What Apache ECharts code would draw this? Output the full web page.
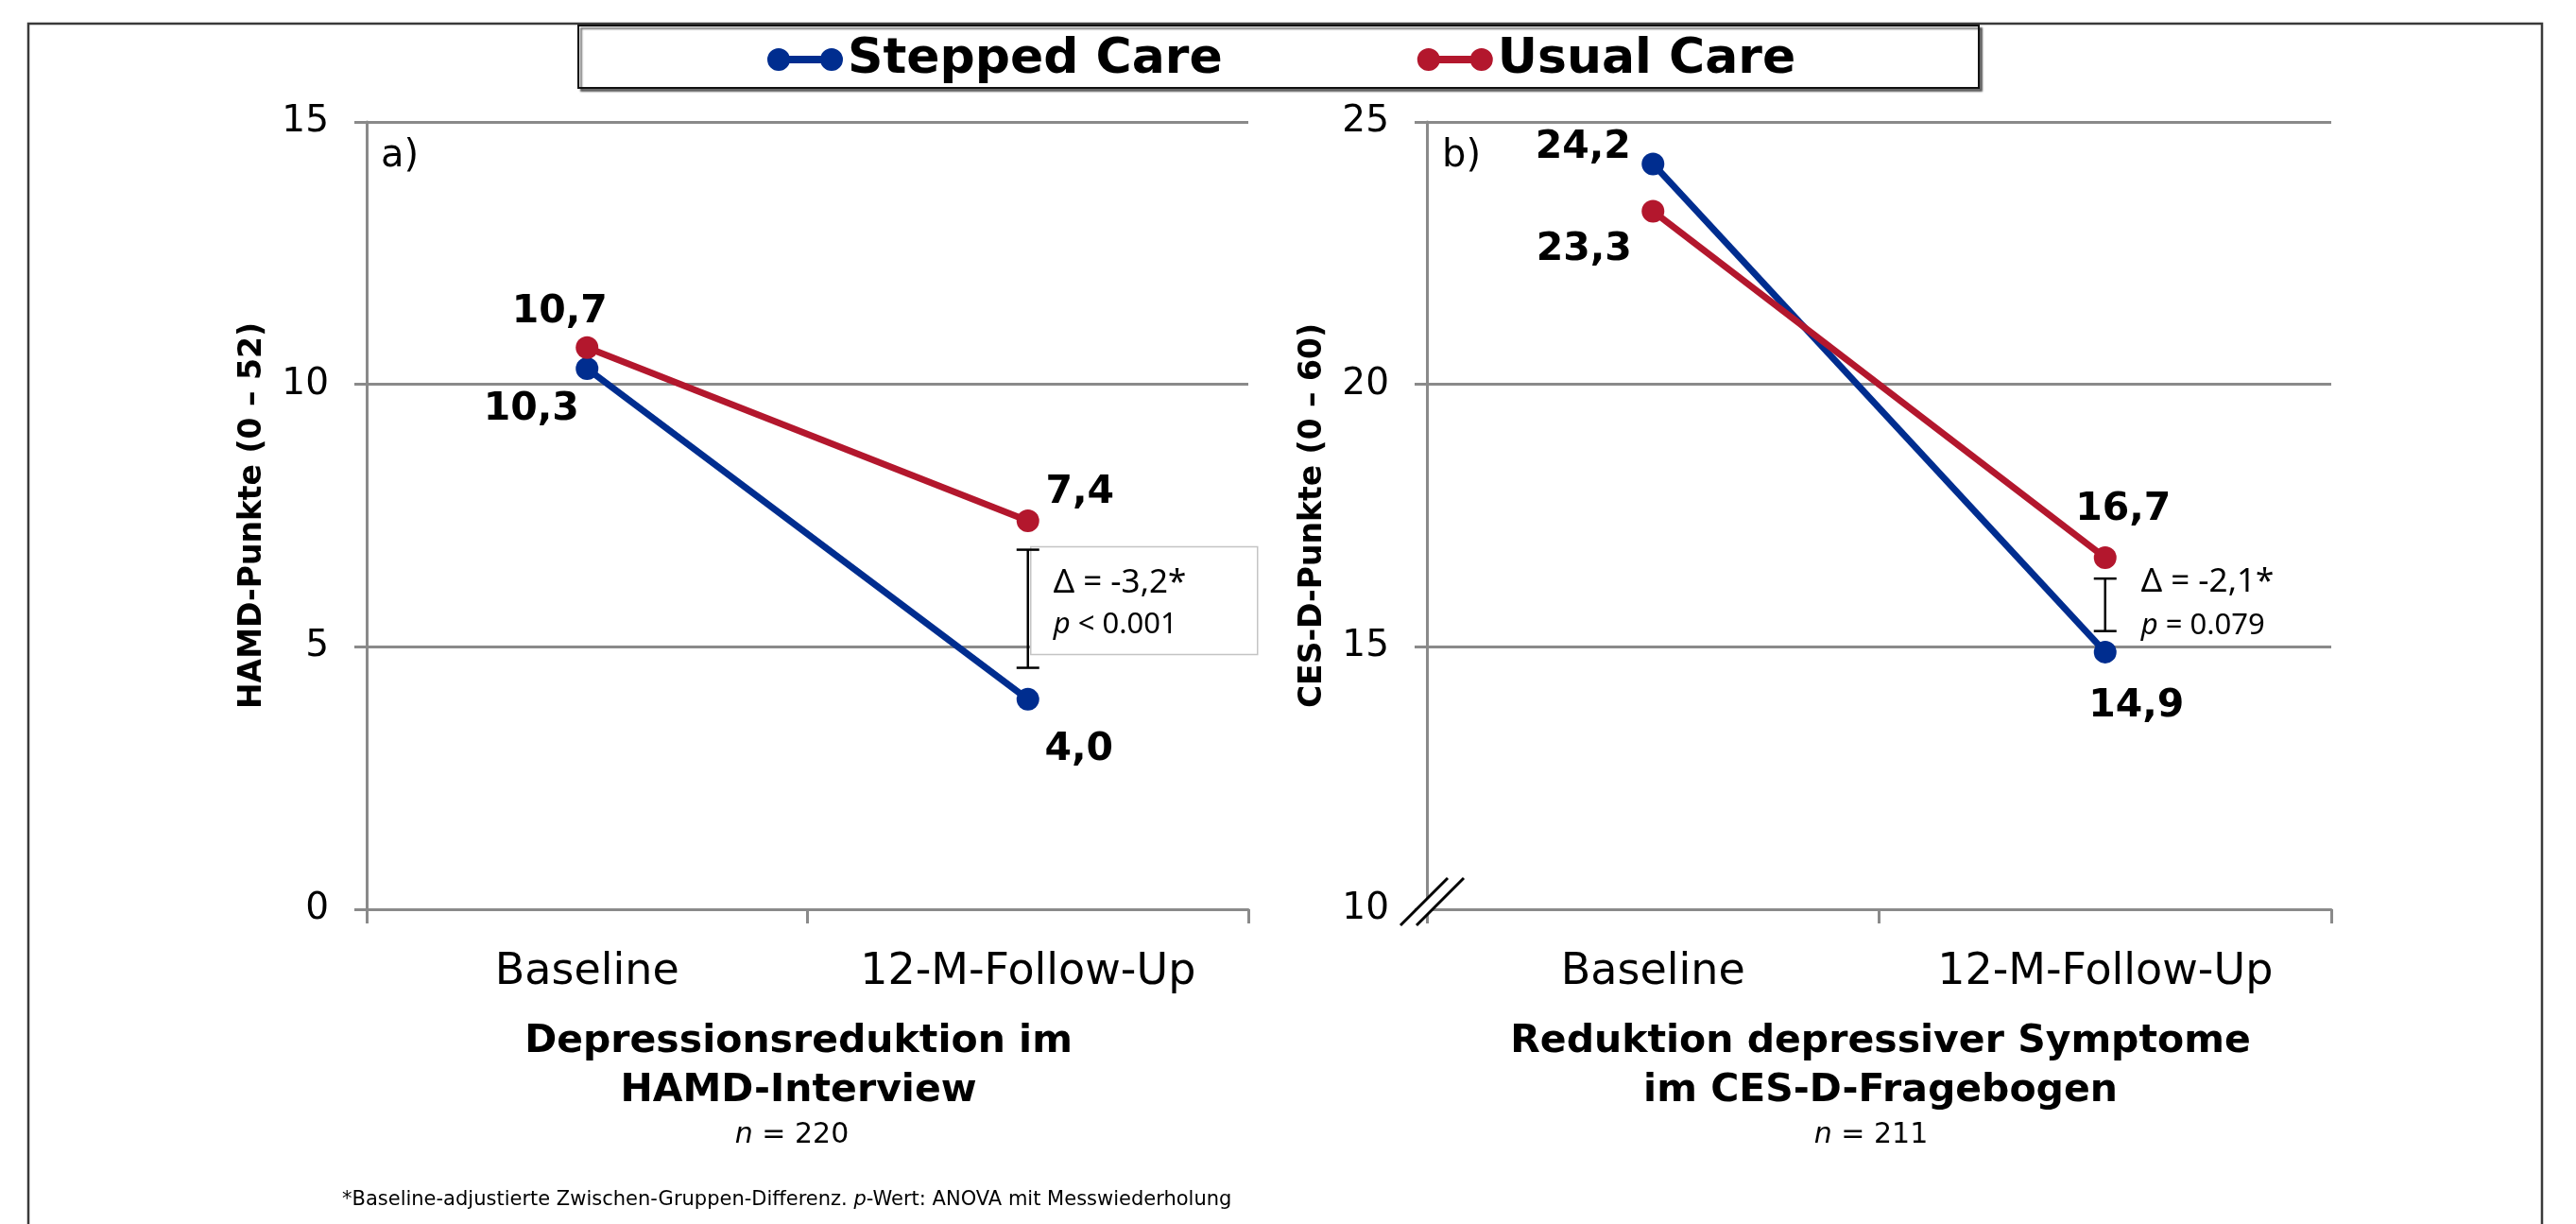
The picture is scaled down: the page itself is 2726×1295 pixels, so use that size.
<!DOCTYPE html>
<html>
<head>
<meta charset="utf-8">
<script src="https://cdn.jsdelivr.net/npm/echarts@6/dist/echarts.min.js"></script>
<style>
  html, body { margin: 0; padding: 0; background: #fff; }
  #chart { width: 2726px; height: 1295px; }
</style>
</head>
<body>
<div id="chart"></div>
<script>
// ---- data ----
const categories = ['Baseline', '12-M-Follow-Up'];
const seriesNames = ['Stepped Care', 'Usual Care'];

// a) HAMD interview scores
const hamdStepped = [10.3, 4.0];
const hamdUsual = [10.7, 7.4];
// b) CES-D questionnaire scores
const cesdStepped = [24.2, 14.9];
const cesdUsual = [23.3, 16.7];

// value axes: [min, max, interval]
const hamdAxis = [0, 15, 5];
const cesdAxis = [10, 25, 5];

// between-group difference brackets at follow-up: [category index, low, high]
const diffBars = [[1, 4.6, 6.85], [1, 15.3, 16.3]];
const diffDelta = ['Δ = -3,2*', 'Δ = -2,1*'];
const diffP = ['< 0.001', '= 0.079'];

const panelTitles = [
  ['Depressionsreduktion im', 'HAMD-Interview'],
  ['Reduktion depressiver Symptome', 'im CES-D-Fragebogen']
];
const sampleSizes = [220, 211];
const axisNames = ['HAMD-Punkte (0 – 52)', 'CES-D-Punkte (0 – 60)'];
const footnote = '*Baseline-adjustierte Zwischen-Gruppen-Differenz. ';
const footnoteTail = '-Wert: ANOVA mit Messwiederholung';

// ---- styling / layout ----
const FONT = "'DejaVu Sans', Verdana, sans-serif";
const NOTE_FONT = "'Noto Sans', 'Open Sans', sans-serif";
const BLUE = '#002d8f';
const RED = '#b3172d';
const GRID_GRAY = '#8a8a8a';

const grids = [
  { left: 388, top: 129, width: 933, height: 833 },
  { left: 1510, top: 129, width: 957, height: 833 }
];

// label offsets (px) from each point, per series
const labelOffsets = {
  hamdStepped: [[-59, 43], [54, 53]],
  hamdUsual: [[-29, -37], [55, -30]],
  cesdStepped: [[-74, -17], [33, 57]],
  cesdUsual: [[-73, 41], [19, -51]]
};

// bracket annotation layout (relative to the bracket)
const diffLayout = [
  { box: { dx: 3, dTop: -3, width: 240, dBottom: -14 }, textDx: 27, line1Dy: 35, line2Dy: 80 },
  { box: null, textDx: 38, line1Dy: 4, line2Dy: 50 }
];

const fmt = v => v.toFixed(1).replace('.', ',');

function lineSeries(name, values, offsets, idx, color) {
  return {
    type: 'line',
    name: name,
    xAxisIndex: idx,
    yAxisIndex: idx,
    data: values.map((v, i) => ({ value: v, label: { offset: offsets[i] } })),
    symbol: 'circle',
    symbolSize: 24,
    lineStyle: { width: 7, color: color },
    itemStyle: { color: color },
    label: {
      show: true,
      position: 'inside',
      formatter: p => fmt(p.value),
      fontFamily: FONT,
      fontSize: 41,
      fontWeight: 'bold',
      color: '#000'
    },
    emphasis: { disabled: true },
    z: 3
  };
}

function diffSeries(i) {
  const lay = diffLayout[i];
  return {
    type: 'custom',
    xAxisIndex: i,
    yAxisIndex: i,
    data: [diffBars[i]],
    encode: { x: 0, y: [1, 2] },
    silent: true,
    z: 4,
    renderItem: function (params, api) {
      const lo = api.coord([api.value(0), api.value(1)]);
      const hi = api.coord([api.value(0), api.value(2)]);
      const x = lo[0];
      const children = [];
      if (lay.box) {
        children.push({
          type: 'rect',
          shape: {
            x: x + lay.box.dx,
            y: hi[1] + lay.box.dTop,
            width: lay.box.width,
            height: (lo[1] + lay.box.dBottom) - (hi[1] + lay.box.dTop)
          },
          style: { fill: '#fff', stroke: '#c4c4c4', lineWidth: 1.5 }
        });
      }
      const bracket = { stroke: '#000', lineWidth: 2.5 };
      children.push({ type: 'line', shape: { x1: x, y1: hi[1], x2: x, y2: lo[1] }, style: bracket });
      children.push({ type: 'line', shape: { x1: x - 12, y1: hi[1], x2: x + 12, y2: hi[1] }, style: bracket });
      children.push({ type: 'line', shape: { x1: x - 12, y1: lo[1], x2: x + 12, y2: lo[1] }, style: bracket });
      children.push({
        type: 'text',
        x: x + lay.textDx,
        y: hi[1] + lay.line1Dy,
        style: {
          text: diffDelta[i],
          fontFamily: NOTE_FONT, fontSize: 35, fill: '#000',
          align: 'left', verticalAlign: 'middle',
          textAlign: 'left', textVerticalAlign: 'middle'
        }
      });
      children.push({
        type: 'text',
        x: x + lay.textDx,
        y: hi[1] + lay.line2Dy,
        style: {
          text: '{i|p}{t| ' + diffP[i] + '}',
          fill: '#000',
          align: 'left', verticalAlign: 'middle',
          textAlign: 'left', textVerticalAlign: 'middle',
          rich: {
            i: { fontFamily: NOTE_FONT, fontSize: 31, fontStyle: 'italic', fill: '#000' },
            t: { fontFamily: NOTE_FONT, fontSize: 31, fill: '#000' }
          }
        }
      });
      return { type: 'group', children: children };
    }
  };
}

function xAxis(idx) {
  return {
    type: 'category',
    gridIndex: idx,
    data: categories,
    boundaryGap: true,
    axisLine: { show: true, lineStyle: { color: GRID_GRAY, width: 3 } },
    axisTick: { show: true, length: 15, lineStyle: { color: GRID_GRAY, width: 3 } },
    axisLabel: { fontFamily: FONT, fontSize: 46, color: '#000', margin: 44 },
    splitLine: { show: false }
  };
}

function yAxis(idx, range) {
  return {
    type: 'value',
    gridIndex: idx,
    min: range[0],
    max: range[1],
    interval: range[2],
    name: axisNames[idx],
    nameLocation: 'middle',
    nameRotate: 90,
    nameGap: 104,
    nameTextStyle: { fontFamily: FONT, fontSize: 33, fontWeight: 'bold', color: '#000' },
    axisLine: { show: true, lineStyle: { color: GRID_GRAY, width: 3 } },
    axisTick: { show: true, length: 13, lineStyle: { color: GRID_GRAY, width: 3 } },
    axisLabel: { fontFamily: FONT, fontSize: 39, color: '#000', margin: 40 },
    splitLine: { show: true, lineStyle: { color: GRID_GRAY, width: 3 } }
  };
}

// legend icon: a short bar with a dot at each end
const legendIcon = 'path://M0,12 A12,12 0 1,1 24,12 A12,12 0 1,1 0,12 Z ' +
  'M56,12 A12,12 0 1,1 80,12 A12,12 0 1,1 56,12 Z M12,8 L68,8 L68,16 L12,16 Z';

const titleCenters = [845, 1990];
const nCenters = [838, 1980];

function panelTexts() {
  const out = [];
  panelTitles.forEach((lines, i) => {
    out.push({
      type: 'text', x: titleCenters[i], y: 1102, z: 10,
      style: { text: lines[0], fontFamily: FONT, fontSize: 41, fontWeight: 'bold', fill: '#000',
        align: 'center', verticalAlign: 'middle', textAlign: 'center', textVerticalAlign: 'middle' }
    });
    out.push({
      type: 'text', x: titleCenters[i], y: 1154, z: 10,
      style: { text: lines[1], fontFamily: FONT, fontSize: 41, fontWeight: 'bold', fill: '#000',
        align: 'center', verticalAlign: 'middle', textAlign: 'center', textVerticalAlign: 'middle' }
    });
    out.push({
      type: 'text', x: nCenters[i], y: 1201, z: 10,
      style: {
        text: '{i|n}{t| = ' + sampleSizes[i] + '}',
        align: 'center', verticalAlign: 'middle', textAlign: 'center', textVerticalAlign: 'middle',
        rich: {
          i: { fontFamily: FONT, fontSize: 30, fontStyle: 'italic', fill: '#000' },
          t: { fontFamily: FONT, fontSize: 30, fill: '#000' }
        }
      }
    });
  });
  return out;
}

// axis break marker at the origin of panel b
function axisBreak() {
  const ox = grids[1].left;
  const oy = grids[1].top + grids[1].height;
  const seg = (dx) => ({
    type: 'line', z: 10,
    shape: { x1: ox + dx - 28, y1: oy + 17, x2: ox + dx + 22, y2: oy - 33 },
    style: { stroke: '#000', lineWidth: 3 }
  });
  return [
    {
      type: 'polygon', z: 9,
      shape: { points: [[ox - 28, oy + 17], [ox + 22, oy - 33], [ox + 39, oy - 33], [ox - 11, oy + 17]] },
      style: { fill: '#fff' }
    },
    seg(0),
    seg(17)
  ];
}

const chart = echarts.init(document.getElementById('chart'), null, { renderer: 'canvas' });

chart.setOption({
  animation: false,
  backgroundColor: '#fff',
  grid: grids.map(g => Object.assign({ containLabel: false }, g)),
  xAxis: [xAxis(0), xAxis(1)],
  yAxis: [yAxis(0, hamdAxis), yAxis(1, cesdAxis)],
  legend: {
    data: seriesNames,
    left: 812,
    top: 37,
    padding: 0,
    itemGap: 206,
    itemWidth: 80,
    itemHeight: 24,
    icon: legendIcon,
    selectedMode: false,
    textStyle: { fontFamily: FONT, fontSize: 52, fontWeight: 'bold', color: '#000', lineHeight: 52 },
    z: 20
  },
  graphic: [
    // outer frame
    {
      type: 'rect', z: 0, silent: true,
      shape: { x: 30, y: 25, width: 2660, height: 1320 },
      style: { fill: 'none', stroke: '#3a3a3a', lineWidth: 2.5 }
    },
    // legend box
    {
      type: 'rect', z: 1, silent: true,
      shape: { x: 612, y: 27, width: 1482, height: 66 },
      style: {
        fill: '#fff', stroke: '#111', lineWidth: 2,
        shadowColor: 'rgba(0,0,0,0.55)', shadowOffsetX: 3, shadowOffsetY: 3, shadowBlur: 2
      }
    },
    {
      type: 'text', x: 403, y: 166, z: 10,
      style: { text: 'a)', fontFamily: FONT, fontSize: 40, fill: '#000',
        align: 'left', verticalAlign: 'middle', textAlign: 'left', textVerticalAlign: 'middle' }
    },
    {
      type: 'text', x: 1526, y: 166, z: 10,
      style: { text: 'b)', fontFamily: FONT, fontSize: 40, fill: '#000',
        align: 'left', verticalAlign: 'middle', textAlign: 'left', textVerticalAlign: 'middle' }
    },
    {
      type: 'text', x: 362, y: 1270, z: 10,
      style: {
        text: '{t|' + footnote + '}{i|p}{t|' + footnoteTail + '}',
        align: 'left', verticalAlign: 'middle', textAlign: 'left', textVerticalAlign: 'middle',
        rich: {
          t: { fontFamily: FONT, fontSize: 21, fill: '#000' },
          i: { fontFamily: FONT, fontSize: 21, fontStyle: 'italic', fill: '#000' }
        }
      }
    }
  ].concat(panelTexts(), axisBreak()),
  series: [
    lineSeries(seriesNames[0], hamdStepped, labelOffsets.hamdStepped, 0, BLUE),
    lineSeries(seriesNames[1], hamdUsual, labelOffsets.hamdUsual, 0, RED),
    lineSeries(seriesNames[0], cesdStepped, labelOffsets.cesdStepped, 1, BLUE),
    lineSeries(seriesNames[1], cesdUsual, labelOffsets.cesdUsual, 1, RED),
    diffSeries(0),
    diffSeries(1)
  ]
});
</script>
</body>
</html>
